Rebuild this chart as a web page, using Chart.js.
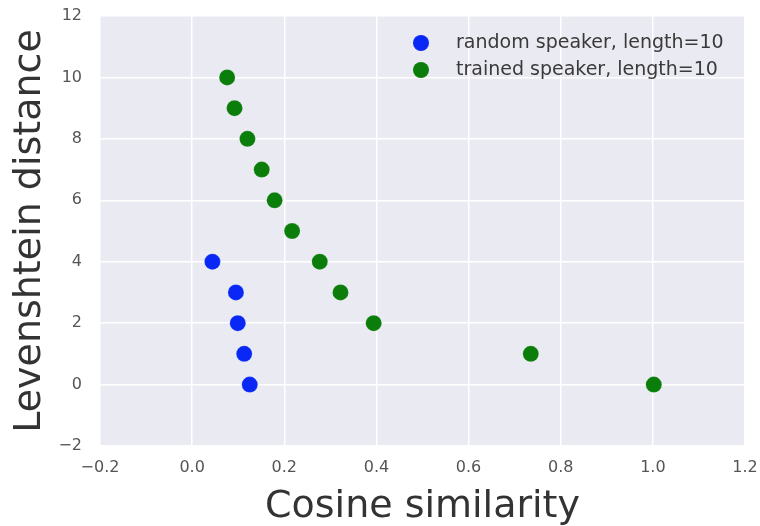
<!DOCTYPE html>
<html>
<head>
<meta charset="utf-8">
<script src="https://cdn.jsdelivr.net/npm/chart.js@4"></script>
<style>
  html, body { margin: 0; padding: 0; background: #fff; }
  #wrap { width: 760px; height: 526px; }
</style>
</head>
<body>
<div id="wrap"><canvas id="chart"></canvas></div>
<script>
const randomLabel = 'random speaker, length=10';
const randomX = [0.044, 0.095, 0.099, 0.113, 0.125];
const randomY = [4, 3, 2, 1, 0];

const trainedLabel = 'trained speaker, length=10';
const trainedX = [0.076, 0.092, 0.120, 0.151, 0.179, 0.217, 0.277, 0.322, 0.394, 0.735, 1.002];
const trainedY = [10, 9, 8, 7, 6, 5, 4, 3, 2, 1, 0];

const xTicks = [-0.2, 0.0, 0.2, 0.4, 0.6, 0.8, 1.0, 1.2];
const yTicks = [-2, 0, 2, 4, 6, 8, 10, 12];

const FONT = 'DejaVu Sans';

function toPoints(xs, ys) {
    return xs.map((x, i) => ({ x, y: ys[i] }));
}

// grey plot background, seaborn style
const plotBg = {
    id: 'plotBg',
    beforeDraw(chart) {
        const { ctx, chartArea: a } = chart;
        ctx.save();
        ctx.fillStyle = '#eaeaf2';
        ctx.fillRect(a.left, a.top, a.right - a.left, a.bottom - a.top);
        ctx.restore();
    }
};

// legend drawn inside the plot, top right
const innerLegend = {
    id: 'innerLegend',
    afterDatasetsDraw(chart) {
        const { ctx, chartArea: a } = chart;
        ctx.save();
        ctx.font = '19px "' + FONT + '"';
        ctx.textBaseline = 'middle';
        chart.data.datasets.forEach((ds, i) => {
            const y = a.top + 27 + i * 27;
            const mx = a.right - 324;
            ctx.beginPath();
            ctx.arc(mx, y, 8, 0, Math.PI * 2);
            ctx.fillStyle = ds.backgroundColor;
            ctx.fill();
            ctx.fillStyle = '#3a3a3a';
            ctx.fillText(ds.label, mx + 35, y);
        });
        ctx.restore();
    }
};

new Chart(document.getElementById('chart'), {
    type: 'scatter',
    data: {
        datasets: [{
            label: randomLabel,
            data: toPoints(randomX, randomY),
            backgroundColor: '#0a28f5',
            borderColor: 'rgba(255,255,255,0.35)',
            borderWidth: 0.5,
            pointRadius: 8,
            pointHoverRadius: 8
        }, {
            label: trainedLabel,
            data: toPoints(trainedX, trainedY),
            backgroundColor: '#0a7d0a',
            borderColor: 'rgba(255,255,255,0.35)',
            borderWidth: 0.5,
            pointRadius: 8,
            pointHoverRadius: 8
        }]
    },
    options: {
        responsive: true,
        maintainAspectRatio: false,
        animation: false,
        events: [],
        layout: { padding: { top: 16, right: 15, left: 0, bottom: 0 } },
        plugins: {
            legend: { display: false },
            tooltip: { enabled: false }
        },
        scales: {
            x: {
                type: 'linear',
                min: -0.2,
                max: 1.2,
                afterBuildTicks: axis => { axis.ticks = xTicks.map(v => ({ value: v })); },
                afterFit: axis => {
                    axis.height = 80;
                    axis.paddingLeft = 0;
                    axis.paddingRight = 0;
                },
                border: { display: false },
                grid: { color: '#ffffff', lineWidth: 1.5, drawTicks: false },
                ticks: {
                    padding: 12,
                    color: '#555',
                    font: { family: FONT, size: 16 },
                    callback: v => (v < 0 ? '\u2212' : '') + Math.abs(v).toFixed(1)
                },
                title: {
                    display: true,
                    text: 'Cosine similarity',
                    color: '#333',
                    font: { family: FONT, size: 38 },
                    padding: { top: 0, bottom: -4 }
                }
            },
            y: {
                type: 'linear',
                min: -2,
                max: 12,
                afterBuildTicks: axis => { axis.ticks = yTicks.map(v => ({ value: v })); },
                afterFit: axis => {
                    axis.width = 100;
                    axis.paddingTop = 0;
                    axis.paddingBottom = 0;
                },
                border: { display: false },
                grid: { color: '#ffffff', lineWidth: 1.5, drawTicks: false },
                ticks: {
                    padding: 18,
                    color: '#555',
                    font: { family: FONT, size: 16 },
                    callback: v => (v < 0 ? '\u2212' : '') + Math.abs(v)
                },
                title: {
                    display: true,
                    text: 'Levenshtein distance',
                    color: '#333',
                    font: { family: FONT, size: 38 },
                    padding: { top: 7, bottom: 0 }
                }
            }
        }
    },
    plugins: [plotBg, innerLegend]
});
</script>
</body>
</html>
